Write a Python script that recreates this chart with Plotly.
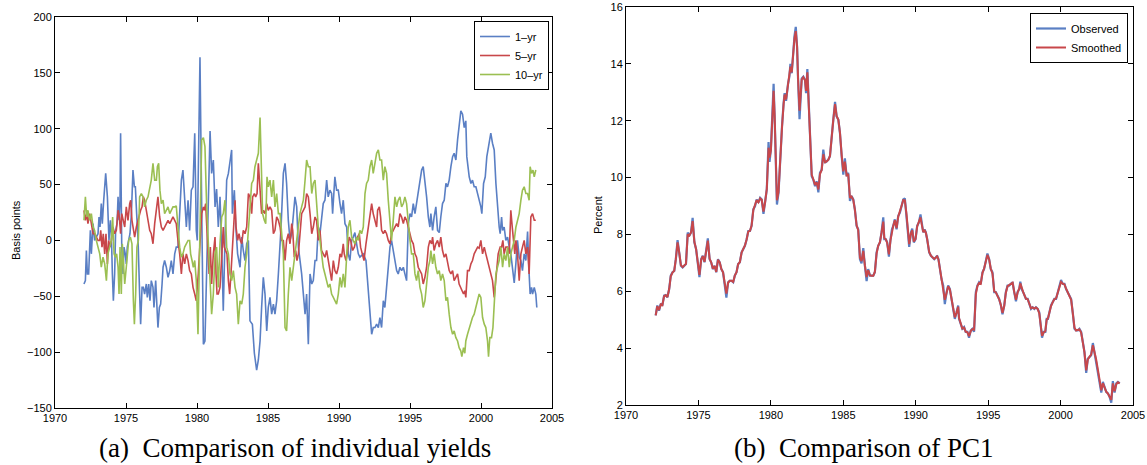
import plotly.graph_objects as go

# ---------------- Panel (a): individual yields (basis points) ----------------
yr1_years = [1972.04,1972.14,1972.21,1972.28,1972.37,1972.49,1972.56,1972.68,1972.79,1972.91,
 1973.03,1973.10,1973.17,1973.26,1973.33,1973.43,1973.50,1973.57,1973.69,1973.80,1973.90,1973.97,
 1974.04,1974.11,1974.20,1974.27,1974.37,1974.44,1974.51,1974.58,1974.62,1974.70,1974.79,1974.86,1974.95,
 1975.02,1975.09,1975.19,1975.28,1975.38,1975.49,1975.59,1975.66,1975.75,1975.85,1975.96,
 1976.03,1976.13,1976.22,1976.31,1976.43,1976.50,1976.60,1976.69,1976.78,1976.90,1976.97,
 1977.09,1977.16,1977.25,1977.35,1977.44,1977.54,1977.61,1977.72,1977.84,1977.96,
 1978.08,1978.19,1978.31,1978.43,1978.54,1978.66,1978.78,1978.90,
 1979.01,1979.13,1979.25,1979.37,1979.48,1979.60,1979.72,1979.84,1979.95,
 1980.02,1980.12,1980.21,1980.33,1980.45,1980.56,1980.68,1980.80,1980.92,
 1981.03,1981.15,1981.27,1981.38,1981.50,1981.62,1981.74,1981.85,1981.97,
 1982.09,1982.21,1982.32,1982.44,1982.49,1982.63,1982.72,1982.86,
 1983.03,1983.15,1983.26,1983.38,1983.50,1983.62,1983.73,1983.90,
 1984.04,1984.20,1984.32,1984.44,1984.55,1984.67,1984.79,1984.91,
 1985.02,1985.14,1985.26,1985.38,1985.49,1985.61,1985.73,1985.92,
 1986.08,1986.20,1986.31,1986.43,1986.55,1986.67,1986.90,
 1987.02,1987.14,1987.37,1987.61,1987.72,1987.84,1987.96,
 1988.08,1988.19,1988.31,1988.42,1988.54,1988.66,1988.89,
 1989.01,1989.13,1989.24,1989.36,1989.48,1989.55,1989.71,1989.83,1989.95,
 1990.07,1990.18,1990.30,1990.42,1990.54,1990.65,1990.77,1990.89,
 1991.00,1991.12,1991.24,1991.36,1991.47,1991.71,1991.90,
 1992.06,1992.18,1992.30,1992.41,1992.53,1992.65,1992.77,1992.88,
 1993.00,1993.12,1993.23,1993.35,1993.47,1993.59,1993.70,1993.94,
 1994.06,1994.17,1994.29,1994.41,1994.53,1994.64,1994.76,1994.88,
 1995.00,1995.11,1995.23,1995.35,1995.46,1995.58,1995.70,1995.82,1995.93,
 1996.05,1996.17,1996.29,1996.40,1996.47,1996.59,1996.70,1996.82,1996.94,
 1997.06,1997.17,1997.29,1997.41,1997.53,1997.64,1997.76,1997.88,
 1998.00,1998.11,1998.23,1998.35,1998.46,1998.58,1998.70,1998.82,1998.93,
 1999.00,1999.17,1999.29,1999.40,1999.52,1999.64,1999.76,1999.87,1999.99,
 2000.06,2000.18,2000.30,2000.41,2000.53,2000.69,2000.81,2000.93,
 2001.05,2001.16,2001.28,2001.35,2001.45,2001.52,2001.63,2001.75,2001.87,2001.99,
 2002.10,2002.22,2002.34,2002.46,2002.57,2002.69,2002.81,2002.92,
 2003.04,2003.16,2003.28,2003.39,2003.46,2003.56,2003.63,2003.75,2003.86,2003.93]
yr1_values = [-39,-36,-9,-30,-30,9,-12,15,0,3,
 6,21,12,33,15,36,54,60,39,0,18,6,
 -30,-54,-30,9,15,39,18,36,96,-6,-30,-6,-12,
 -21,-6,0,6,24,63,48,48,24,0,-48,
 -75,-42,-42,-48,-39,-51,-39,-54,-36,-42,-60,
 -36,-60,-78,-60,-57,-39,-24,-18,-24,-33,
 -27,-18,-30,-12,-6,-6,24,54,
 63,36,12,36,9,45,48,96,9,
 0,90,164,30,-93,-90,-30,30,98,
 60,72,30,46,12,39,-6,-63,0,
 54,60,72,81,24,45,15,-12,
 -24,3,-9,-18,-3,0,-72,-75,
 -101,-116,-107,-90,-60,-33,-48,-81,
 -60,-51,-66,-57,-66,-54,-30,12,
 60,69,51,18,0,6,39,
 30,-6,-30,-66,-48,-93,-30,
 -39,-36,-18,-18,12,6,33,
 36,54,39,45,42,24,57,45,45,
 33,24,36,15,12,-12,-18,0,
 3,7,-3,-12,-15,-12,-18,
 -48,-69,-84,-78,-78,-75,-78,-69,
 -78,-54,-60,-42,-24,-6,0,-18,
 -27,-30,-24,-27,-24,-30,-36,15,
 24,21,33,24,33,45,54,63,66,
 54,39,21,12,24,9,21,30,9,
 7,21,33,36,51,48,54,66,
 75,78,72,90,101,116,113,101,107,
 75,57,51,54,48,48,42,36,30,
 24,51,57,75,84,96,87,81,
 51,30,12,6,21,9,12,0,3,-6,
 -12,-25,-38,-20,0,-15,-18,-27,
 -12,-18,8,-30,-48,-42,-48,-42,-48,-60]

yr5_years = [1972.04,1972.14,1972.23,1972.32,1972.44,1972.56,1972.68,1972.79,1972.91,
 1973.03,1973.15,1973.22,1973.31,1973.40,1973.50,1973.59,1973.69,1973.78,1973.87,1973.97,
 1974.08,1974.20,1974.32,1974.44,1974.53,1974.62,1974.70,1974.79,1974.91,
 1975.02,1975.14,1975.26,1975.33,1975.42,1975.52,1975.61,1975.73,1975.85,1975.92,
 1976.03,1976.13,1976.22,1976.31,1976.43,1976.55,1976.67,1976.78,1976.90,
 1977.02,1977.14,1977.25,1977.37,1977.49,1977.61,1977.72,1977.84,1977.96,
 1978.08,1978.19,1978.31,1978.43,1978.54,1978.66,1978.78,1978.90,
 1979.01,1979.13,1979.25,1979.37,1979.48,1979.60,1979.72,1979.84,1979.95,
 1980.09,1980.21,1980.33,1980.45,1980.52,1980.61,1980.75,1980.85,1980.94,
 1981.03,1981.15,1981.27,1981.34,1981.41,1981.50,1981.62,1981.74,1981.85,1981.92,
 1982.02,1982.11,1982.21,1982.30,1982.39,1982.49,1982.58,1982.68,1982.75,1982.86,1982.96,
 1983.05,1983.15,1983.26,1983.38,1983.50,1983.62,1983.73,1983.85,1983.92,
 1984.04,1984.13,1984.23,1984.32,1984.44,1984.55,1984.67,1984.79,1984.91,
 1985.02,1985.14,1985.26,1985.38,1985.49,1985.61,1985.73,1985.85,1985.96,
 1986.08,1986.20,1986.31,1986.43,1986.55,1986.67,1986.74,1986.85,1986.95,
 1987.04,1987.14,1987.25,1987.37,1987.49,1987.61,1987.72,1987.84,1987.96,
 1988.08,1988.19,1988.31,1988.42,1988.54,1988.66,1988.77,1988.89,
 1989.01,1989.13,1989.24,1989.36,1989.48,1989.60,1989.71,1989.83,1989.95,
 1990.07,1990.18,1990.30,1990.37,1990.49,1990.58,1990.72,1990.82,1990.96,
 1991.08,1991.19,1991.31,1991.43,1991.52,1991.66,1991.76,1991.90,
 1992.06,1992.18,1992.30,1992.41,1992.53,1992.65,1992.72,1992.84,1992.93,
 1993.00,1993.12,1993.23,1993.35,1993.47,1993.59,1993.70,1993.82,1993.94,
 1994.06,1994.17,1994.29,1994.41,1994.53,1994.64,1994.76,1994.88,
 1995.00,1995.11,1995.23,1995.35,1995.46,1995.58,1995.70,1995.82,1995.93,
 1996.05,1996.17,1996.29,1996.40,1996.52,1996.59,1996.70,1996.82,1996.94,
 1997.06,1997.17,1997.29,1997.41,1997.53,1997.64,1997.76,1997.88,
 1998.00,1998.11,1998.23,1998.35,1998.46,1998.58,1998.70,1998.77,1998.86,1998.93,
 1999.05,1999.17,1999.29,1999.40,1999.52,1999.64,1999.76,1999.87,1999.99,
 2000.11,2000.23,2000.34,2000.46,2000.58,2000.69,2000.81,2000.93,
 2001.00,2001.12,2001.21,2001.35,2001.45,2001.54,2001.63,2001.75,2001.87,2001.99,
 2002.10,2002.20,2002.29,2002.38,2002.46,2002.57,2002.69,2002.81,2002.92,
 2003.04,2003.16,2003.28,2003.39,2003.51,2003.63,2003.75,2003.86]
yr5_values = [27,18,24,15,24,13,6,6,3,
 0,0,9,-6,6,-12,6,-21,0,-6,0,
 12,6,9,27,21,6,24,18,12,
 30,18,33,36,18,9,3,12,18,24,
 27,30,39,36,27,21,9,6,-3,
 15,27,39,21,12,9,12,15,18,
 15,18,21,18,15,0,-12,-30,
 -12,-21,-12,-18,-27,-30,-42,-48,-54,
 -30,0,24,30,27,33,-6,-30,-6,
 -39,-12,3,-30,-48,-48,-42,-15,12,-6,
 -9,-12,-36,-48,-30,-12,12,36,12,0,6,
 0,-3,9,6,12,42,39,24,39,
 42,39,42,69,48,24,27,24,33,
 27,30,27,6,9,21,18,12,0,
 0,-18,0,6,-3,15,9,-15,-9,
 -18,-12,6,24,27,30,42,39,24,
 6,12,21,18,0,9,-9,-12,
 -15,-9,-18,-24,-36,-18,-27,-30,-24,
 -12,-15,-3,-12,-18,-12,3,0,-9,
 -6,0,3,6,-6,-15,-18,-3,
 12,21,33,24,18,12,27,30,21,
 9,6,9,6,0,-3,6,9,12,
 15,12,24,21,15,21,18,12,
 6,0,-3,-12,-15,-24,-27,-30,-39,
 -33,-24,-6,0,-3,3,-9,-3,0,
 -6,3,-9,-15,-12,-21,-27,-30,
 -27,-36,-33,-30,-39,-42,-45,-48,-45,-51,
 -27,-27,-21,-18,-12,-9,-6,-7,0,
 -12,-6,-12,-18,-24,-30,-36,-51,
 -42,-30,-12,-6,-6,0,-12,-6,-6,-12,
 27,12,0,-12,0,-12,-36,-12,-6,
 0,-12,-6,-30,21,24,18,18]

yr10_years = [1972.04,1972.14,1972.23,1972.32,1972.44,1972.56,1972.68,1972.79,1972.91,
 1973.03,1973.15,1973.26,1973.38,1973.50,1973.62,1973.73,1973.85,1973.97,
 1974.06,1974.16,1974.25,1974.34,1974.44,1974.51,1974.58,1974.67,1974.74,1974.84,1974.91,
 1975.02,1975.09,1975.19,1975.31,1975.42,1975.52,1975.59,1975.68,1975.77,1975.87,1975.96,
 1976.08,1976.20,1976.31,1976.43,1976.55,1976.67,1976.78,1976.90,
 1977.02,1977.14,1977.21,1977.30,1977.39,1977.49,1977.61,1977.72,1977.84,1977.96,
 1978.08,1978.19,1978.31,1978.43,1978.54,1978.66,1978.78,1978.90,
 1979.01,1979.13,1979.25,1979.37,1979.48,1979.55,1979.65,1979.74,1979.84,1979.95,
 1980.07,1980.21,1980.33,1980.45,1980.56,1980.68,1980.80,1980.92,
 1981.03,1981.15,1981.27,1981.38,1981.50,1981.62,1981.74,1981.85,1981.97,
 1982.09,1982.21,1982.32,1982.44,1982.56,1982.68,1982.79,1982.91,
 1983.03,1983.15,1983.26,1983.38,1983.50,1983.62,1983.73,1983.85,1983.97,
 1984.08,1984.20,1984.32,1984.44,1984.51,1984.62,1984.74,1984.84,1984.93,
 1985.02,1985.14,1985.26,1985.38,1985.49,1985.61,1985.73,1985.85,1985.96,
 1986.08,1986.20,1986.31,1986.43,1986.55,1986.67,1986.78,1986.90,
 1987.02,1987.14,1987.25,1987.37,1987.49,1987.61,1987.72,1987.84,1987.96,
 1988.08,1988.19,1988.31,1988.42,1988.54,1988.66,1988.77,1988.89,
 1989.01,1989.13,1989.24,1989.36,1989.48,1989.60,1989.71,1989.83,1989.95,
 1990.07,1990.18,1990.30,1990.42,1990.54,1990.65,1990.77,1990.89,
 1991.00,1991.12,1991.24,1991.36,1991.47,1991.59,1991.71,1991.83,1991.94,
 1992.06,1992.18,1992.30,1992.41,1992.53,1992.65,1992.77,1992.88,
 1993.00,1993.12,1993.23,1993.35,1993.47,1993.59,1993.70,1993.82,1993.94,
 1994.06,1994.17,1994.29,1994.41,1994.53,1994.64,1994.76,1994.88,
 1995.00,1995.11,1995.23,1995.35,1995.46,1995.58,1995.70,1995.82,1995.93,
 1996.05,1996.17,1996.29,1996.40,1996.47,1996.59,1996.70,1996.82,1996.94,
 1997.06,1997.17,1997.29,1997.41,1997.53,1997.64,1997.76,1997.88,
 1998.00,1998.11,1998.23,1998.35,1998.46,1998.58,1998.65,1998.77,1998.86,1998.93,
 1999.05,1999.17,1999.29,1999.40,1999.52,1999.64,1999.76,1999.87,1999.99,
 2000.11,2000.23,2000.34,2000.46,2000.53,2000.62,2000.74,2000.84,2000.93,
 2001.05,2001.16,2001.28,2001.40,2001.52,2001.63,2001.75,2001.87,2001.99,
 2002.10,2002.22,2002.34,2002.46,2002.57,2002.69,2002.81,2002.92,
 2003.04,2003.16,2003.28,2003.39,2003.46,2003.56,2003.66,2003.75,2003.86]
yr10_values = [18,39,21,27,18,24,12,9,0,
 -6,-12,-24,-15,-21,-36,-12,-6,0,
 21,-12,-15,-12,-24,-48,-6,-48,-3,-30,-39,
 -24,-12,0,3,-3,-54,-75,-48,-6,0,39,
 42,39,30,36,39,48,54,69,
 54,54,66,69,45,33,36,24,27,30,
 24,27,30,30,31,12,-6,-15,
 -12,-6,-3,0,0,-12,-18,-24,-18,-36,
 -84,0,90,92,84,30,0,-30,
 -66,-48,-12,-6,-42,-3,21,24,36,
 -6,-12,-30,-36,-27,-42,-48,-75,
 -54,-57,-48,-24,-12,12,30,51,54,
 66,72,78,110,66,24,18,15,57,
 48,54,39,54,30,42,24,24,3,
 -12,-78,-81,-48,-24,-36,-24,-12,
 0,12,24,30,36,54,72,66,66,
 42,51,54,30,12,0,-12,-24,
 -30,-36,-42,-39,-48,-51,-54,-57,-48,
 -33,-42,-30,-42,-12,12,18,3,
 0,-3,3,0,9,6,12,42,51,
 54,66,72,60,69,78,81,72,
 72,54,66,60,36,15,0,18,39,
 30,36,39,30,33,39,33,12,
 0,-12,-12,-30,-36,-27,-42,-48,-60,
 -54,-36,-24,-18,-9,-21,-12,-24,-30,
 -27,-36,-30,-36,-54,-51,-66,-78,
 -84,-81,-87,-90,-96,-99,-104,-96,-101,-90,
 -84,-78,-72,-69,-66,-60,-54,-48,-51,
 -69,-75,-78,-90,-104,-87,-87,-78,-54,
 -30,-24,-18,-6,-24,-12,-18,-6,-24,
 -12,-6,0,12,18,24,36,45,
 48,42,42,36,66,60,63,57,63]

# ---------------- Panel (b): PC1 (percent) ----------------
pc1_years = [1972.05,1972.16,1972.28,1972.40,1972.51,1972.63,1972.74,1972.86,1972.98,
 1973.09,1973.21,1973.33,1973.44,1973.56,1973.67,1973.79,1973.91,
 1974.02,1974.14,1974.26,1974.37,1974.49,1974.60,1974.72,1974.84,1974.95,
 1975.07,1975.19,1975.30,1975.42,1975.53,1975.65,1975.77,1975.88,
 1976.00,1976.12,1976.23,1976.35,1976.47,1976.58,1976.70,1976.81,1976.93,
 1977.05,1977.16,1977.28,1977.40,1977.51,1977.63,1977.74,1977.86,1977.98,
 1978.09,1978.21,1978.33,1978.44,1978.56,1978.67,1978.79,1978.91,
 1979.02,1979.14,1979.26,1979.37,1979.49,1979.60,1979.72,1979.84,1979.91,
 1980.00,1980.09,1980.19,1980.26,1980.35,1980.42,1980.53,1980.65,1980.77,1980.88,1980.95,
 1981.05,1981.12,1981.19,1981.28,1981.35,1981.44,1981.53,1981.63,1981.72,1981.81,1981.88,1981.98,
 1982.13,1982.24,1982.36,1982.43,1982.52,1982.61,1982.70,1982.82,1982.93,
 1983.05,1983.16,1983.28,1983.39,1983.51,1983.62,1983.74,1983.85,1983.97,
 1984.08,1984.20,1984.31,1984.43,1984.54,1984.66,1984.77,1984.89,
 1985.00,1985.11,1985.23,1985.34,1985.46,1985.57,1985.69,1985.80,1985.92,
 1986.03,1986.15,1986.26,1986.38,1986.49,1986.61,1986.72,1986.84,1986.95,
 1987.07,1987.18,1987.30,1987.41,1987.53,1987.64,1987.76,1987.83,1987.94,
 1988.03,1988.15,1988.26,1988.36,1988.45,1988.56,1988.68,1988.79,1988.91,
 1989.02,1989.14,1989.25,1989.37,1989.48,1989.55,1989.67,1989.76,1989.87,1989.99,
 1990.10,1990.22,1990.33,1990.43,1990.52,1990.61,1990.70,1990.79,1990.93,
 1991.05,1991.16,1991.28,1991.39,1991.48,1991.57,1991.67,1991.78,1991.90,
 1992.01,1992.13,1992.24,1992.36,1992.47,1992.59,1992.70,1992.82,1992.93,
 1992.99,1993.11,1993.22,1993.34,1993.45,1993.57,1993.68,1993.80,1993.91,
 1994.03,1994.15,1994.26,1994.38,1994.49,1994.61,1994.72,1994.84,1994.95,
 1995.07,1995.18,1995.30,1995.42,1995.53,1995.65,1995.76,1995.88,1995.99,
 1996.11,1996.22,1996.34,1996.45,1996.57,1996.69,1996.80,1996.92,
 1997.03,1997.15,1997.22,1997.31,1997.42,1997.52,1997.61,1997.73,1997.84,1997.96,
 1998.07,1998.19,1998.30,1998.42,1998.53,1998.65,1998.72,1998.83,1998.95,
 1999.04,1999.13,1999.23,1999.34,1999.46,1999.57,1999.69,1999.80,1999.92,
 2000.03,2000.15,2000.27,2000.38,2000.50,2000.61,2000.73,2000.84,2000.96,
 2001.07,2001.19,2001.30,2001.42,2001.54,2001.65,2001.77,2001.88,
 2002.00,2002.11,2002.23,2002.34,2002.45,2002.57,2002.69,2002.81,2002.92,
 2003.04,2003.15,2003.27,2003.38,2003.50,2003.61,2003.73,2003.85,2003.96,2004.08]
pc1_observed = [5.15,5.50,5.32,5.56,5.50,5.85,5.87,5.79,6.08,
 6.55,6.67,6.72,7.13,7.80,7.37,6.90,6.84,
 6.90,6.96,8.07,7.95,8.07,8.58,7.72,7.48,7.02,
 6.50,7.13,7.25,7.02,7.37,7.86,7.13,7.02,
 6.78,6.90,6.67,7.13,7.02,6.78,6.67,6.32,5.78,
 6.32,6.37,6.37,6.32,6.55,6.67,6.96,7.02,7.37,
 7.48,7.60,7.83,8.12,8.12,8.30,8.88,9.00,
 9.23,9.12,9.29,9.23,8.72,9.12,9.58,11.25,10.55,
 10.98,12.45,13.30,12.15,10.17,9.05,9.47,10.87,11.80,12.62,12.97,
 12.70,13.10,13.32,13.55,14.00,13.67,14.37,14.98,15.30,14.60,13.43,12.05,
 13.49,13.55,13.43,12.97,13.82,12.73,11.33,10.05,9.93,
 9.70,9.87,9.48,10.17,10.28,10.98,10.52,10.57,10.63,
 10.75,11.57,12.03,12.66,12.15,12.03,11.57,10.75,
 10.10,10.68,10.05,10.17,9.18,9.35,9.23,8.88,8.30,
 8.18,7.13,6.98,7.52,6.90,6.36,6.78,6.55,6.55,
 6.55,6.67,7.37,7.60,7.72,8.07,8.60,7.83,7.83,
 7.72,7.22,7.83,8.18,8.30,8.53,8.18,8.65,8.77,
 9.00,9.23,9.27,8.65,8.07,7.56,8.07,8.20,7.72,7.83,
 8.30,8.42,8.70,8.30,8.07,8.18,8.07,7.83,7.37,
 7.25,7.19,7.13,7.19,7.25,7.13,6.78,6.43,6.20,
 5.55,5.96,6.20,6.08,5.73,5.38,5.03,5.26,5.50,
 5.03,4.80,4.68,4.74,4.57,4.57,4.37,4.62,4.68,
 4.58,5.97,6.20,6.32,6.26,6.67,6.78,7.13,7.33,
 7.13,6.78,6.67,5.97,5.97,5.85,5.73,5.50,5.19,
 5.50,5.97,6.20,6.20,6.26,6.32,5.97,5.65,
 5.97,6.08,6.34,6.08,5.97,5.85,5.73,5.73,5.56,5.38,
 5.44,5.38,5.44,5.38,5.26,4.57,4.37,4.57,4.57,
 5.03,5.03,5.26,5.50,5.62,5.73,5.73,5.97,6.20,
 6.40,6.26,6.26,6.08,5.97,5.85,5.73,5.26,4.68,
 4.62,4.62,4.68,4.57,4.21,3.86,3.13,3.63,
 3.69,3.75,4.18,3.86,3.63,3.28,2.81,2.44,2.81,
 2.58,2.46,2.41,2.29,2.08,2.84,2.44,2.76,2.81,2.76]
pc1_smoothed = [5.15,5.48,5.34,5.54,5.51,5.83,5.86,5.80,6.08,
 6.53,6.66,6.72,7.13,7.72,7.38,6.92,6.85,
 6.90,6.97,8.00,7.96,8.07,8.47,7.74,7.48,7.04,
 6.58,7.11,7.24,7.04,7.37,7.78,7.15,7.02,
 6.79,6.89,6.68,7.11,7.02,6.79,6.67,6.34,5.92,
 6.30,6.37,6.37,6.33,6.55,6.67,6.95,7.03,7.36,
 7.48,7.61,7.83,8.10,8.13,8.31,8.86,9.01,
 9.21,9.13,9.27,9.22,8.80,9.12,9.60,11.05,10.70,
 10.95,12.30,13.05,12.20,10.25,9.20,9.50,10.85,11.78,12.58,12.92,
 12.75,13.05,13.30,13.52,13.90,13.70,14.30,14.90,15.15,14.60,13.45,12.35,
 13.45,13.53,13.42,13.05,13.70,12.78,11.40,10.10,9.94,
 9.74,9.84,9.58,10.12,10.27,10.82,10.54,10.57,10.63,
 10.76,11.53,12.03,12.58,12.17,12.03,11.58,10.78,
 10.22,10.56,10.08,10.12,9.28,9.33,9.22,8.87,8.32,
 8.15,7.18,7.06,7.42,6.92,6.50,6.74,6.56,6.55,
 6.55,6.68,7.33,7.60,7.73,8.06,8.45,7.88,7.82,
 7.70,7.30,7.80,8.17,8.31,8.50,8.22,8.62,8.78,
 9.00,9.21,9.20,8.68,8.06,7.66,8.04,8.15,7.75,7.84,
 8.28,8.44,8.60,8.32,8.08,8.16,8.06,7.84,7.38,
 7.25,7.19,7.14,7.19,7.23,7.12,6.79,6.44,6.19,
 5.70,5.94,6.18,6.06,5.74,5.40,5.08,5.25,5.46,
 5.06,4.81,4.69,4.72,4.58,4.56,4.42,4.60,4.67,
 4.65,5.90,6.18,6.30,6.27,6.65,6.80,7.10,7.28,
 7.12,6.80,6.62,6.00,5.96,5.85,5.72,5.52,5.24,
 5.48,5.94,6.18,6.22,6.25,6.30,5.98,5.70,
 5.95,6.10,6.28,6.10,5.97,5.85,5.74,5.72,5.56,5.40,
 5.43,5.39,5.43,5.38,5.22,4.62,4.43,4.55,4.60,
 5.00,5.05,5.25,5.48,5.62,5.72,5.75,5.95,6.18,
 6.33,6.27,6.24,6.09,5.97,5.84,5.70,5.24,4.72,
 4.62,4.63,4.66,4.55,4.23,3.85,3.22,3.60,
 3.70,3.77,4.10,3.88,3.62,3.26,2.84,2.52,2.77,
 2.60,2.47,2.40,2.30,2.18,2.76,2.48,2.74,2.80,2.76]

x_ticks = [1970, 1975, 1980, 1985, 1990, 1995, 2000, 2005]

BLUE = "#5a7fc4"
RED = "#c8474a"
GREEN = "#9bbf52"

W, H = 1147, 465


def px(x):
    return min(1.0, max(0.0, x / W))


def py(y):
    return min(1.0, max(0.0, (H - y) / H))


fig = go.Figure()
fig.add_trace(go.Scatter(x=yr1_years, y=yr1_values, mode="lines", name="1–yr",
                         line=dict(color=BLUE, width=1.6), xaxis="x", yaxis="y", legend="legend"))
fig.add_trace(go.Scatter(x=yr5_years, y=yr5_values, mode="lines", name="5–yr",
                         line=dict(color=RED, width=1.6), xaxis="x", yaxis="y", legend="legend"))
fig.add_trace(go.Scatter(x=yr10_years, y=yr10_values, mode="lines", name="10–yr",
                         line=dict(color=GREEN, width=1.6), xaxis="x", yaxis="y", legend="legend"))
fig.add_trace(go.Scatter(x=pc1_years, y=pc1_observed, mode="lines", name="Observed",
                         line=dict(color=BLUE, width=2.2), xaxis="x2", yaxis="y2", legend="legend2"))
fig.add_trace(go.Scatter(x=pc1_years, y=pc1_smoothed, mode="lines", name="Smoothed",
                         line=dict(color=RED, width=2.0), xaxis="x2", yaxis="y2", legend="legend2"))

TICKFONT = dict(family="Liberation Sans Narrow, Liberation Sans, Arial", size=11, color="black")
axis_common = dict(showline=True, linecolor="black", linewidth=1, mirror="ticks",
                   ticks="inside", ticklen=5, tickcolor="black", showgrid=False,
                   zeroline=False, tickfont=TICKFONT, automargin=False,
                   ticklabeloverflow="allow")

LEGFONT = dict(family="Liberation Sans, Arial", size=11, color="black")

fig.update_layout(
    width=W, height=H,
    margin=dict(l=0, r=0, t=0, b=0, autoexpand=False),
    paper_bgcolor="white", plot_bgcolor="white",
    font=dict(family="Liberation Sans, Arial", color="black"),
    xaxis=dict(domain=[px(55), px(552)], range=[1970, 2005], tickvals=x_ticks,
               anchor="y", **axis_common),
    yaxis=dict(domain=[py(408), py(17)], range=[-150, 200], dtick=50,
               tick0=0, anchor="x", **axis_common),
    xaxis2=dict(domain=[px(626), px(1133)], range=[1970, 2005], tickvals=x_ticks,
                anchor="y2", **axis_common),
    yaxis2=dict(domain=[py(405), py(7)], range=[2, 16], dtick=2,
                tick0=0, anchor="x2", **axis_common),
    legend=dict(x=px(549), y=py(21), xanchor="right", yanchor="top",
                bgcolor="white", bordercolor="black", borderwidth=1,
                font=LEGFONT, itemwidth=30, tracegroupgap=0),
    legend2=dict(x=px(1128), y=py(13), xanchor="right", yanchor="top",
                 bgcolor="white", bordercolor="black", borderwidth=1,
                 font=LEGFONT, itemwidth=30, tracegroupgap=0),
    showlegend=True,
)

CAPFONT = dict(family="Liberation Serif, DejaVu Serif, serif", size=27, color="black")
LABFONT = dict(family="Liberation Sans, Arial", size=11, color="black")
annotations = [
    dict(text="Basis points", x=px(16), y=py(230), xref="paper", yref="paper",
         xanchor="center", yanchor="middle", textangle=-90, showarrow=False, font=LABFONT),
    dict(text="Percent", x=px(598), y=py(215), xref="paper", yref="paper",
         xanchor="center", yanchor="middle", textangle=-90, showarrow=False, font=LABFONT),
    dict(text="(a)  Comparison of individual yields", x=px(295), y=py(448),
         xref="paper", yref="paper", xanchor="center", yanchor="middle", showarrow=False,
         font=CAPFONT),
    dict(text="(b)  Comparison of PC1", x=px(864), y=py(448),
         xref="paper", yref="paper", xanchor="center", yanchor="middle", showarrow=False,
         font=CAPFONT),
]
fig.update_layout(annotations=annotations)

# remove the default 8px body margin so the figure sits at the page origin
fig.write_html("out.html",
               config={"displayModeBar": False},
               post_script="document.body.style.margin='0';document.body.style.padding='0';")
